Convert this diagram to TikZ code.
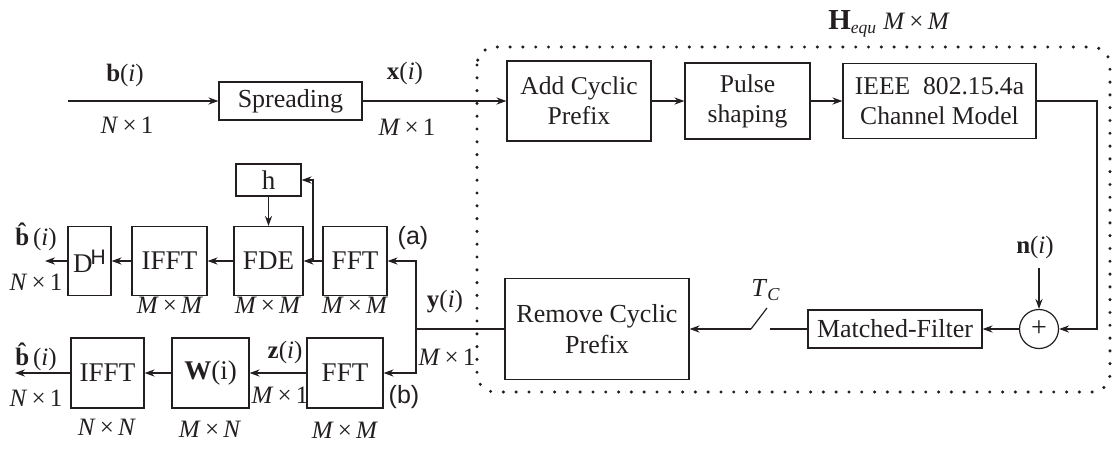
\documentclass[tikz,border=0pt]{standalone}
\usepackage{fontspec}
\setmainfont{Liberation Serif}
\setsansfont{Liberation Sans}
\usetikzlibrary{arrows.meta,calc,shapes.geometric}
\begin{document}
\begin{tikzpicture}[x=0.5pt,y=-0.5pt,
  box/.style={draw=ink, line width=0.6pt, inner sep=0pt, align=center, text=ink, font=\fontsize{12.8}{15}\selectfont},
  bigbox/.style={box, font=\fontsize{13.5}{15}\selectfont},
  ar/.style={draw=ink, -{Stealth[length=5pt,width=3.6pt]}, line width=0.6pt},
  ln/.style={draw=ink, line width=0.6pt},
  lbl/.style={font=\fontsize{12.5}{14}\selectfont, inner sep=0pt, text=ink},
  slbl/.style={font=\sffamily\fontsize{12.5}{14}\selectfont, inner sep=0pt, text=ink},
  dotbox/.style={draw=ink, line width=1.7pt, line cap=round, dash pattern=on 0pt off 6.4pt, rounded corners=9pt}]
\definecolor{ink}{RGB}{35,31,32}
\useasboundingbox (0,0) rectangle (1115,450);

% transmitter
\node[box, font=\fontsize{13}{15}\selectfont, minimum width=71.5pt, minimum height=19pt] (spread) at (290.5,101) {Spreading};
\node[box, minimum width=72pt, minimum height=40pt] (acp) at (579,101) {Add Cyclic\\Prefix};
\node[box, minimum width=62.5pt, minimum height=38pt] (pulse) at (747.5,101) {Pulse\\shaping};
\node[box, minimum width=96.5pt, minimum height=37.5pt] (ieee) at (939.5,101) {IEEE\ \ 802.15.4a\\Channel Model};
\node[draw=ink, line width=0.6pt, circle, minimum size=19.5pt, inner sep=0pt, text=ink, font=\fontsize{14}{14}\selectfont] (plus) at (1039,329) {+};
\node[box, font=\fontsize{13}{15}\selectfont, minimum width=87pt, minimum height=19pt] (mf) at (895,329) {Matched-Filter};
\node[box, font=\fontsize{13}{15.5}\selectfont, minimum width=92pt, minimum height=50.5pt] (rcp) at (597,329) {Remove Cyclic\\Prefix};

% receiver (a)
\node[bigbox, minimum width=32pt, minimum height=34.5pt] (ffta) at (355,261) {FFT};
\node[bigbox, minimum width=34.5pt, minimum height=34.5pt] (fde) at (268.5,261) {FDE};
\node[bigbox, minimum width=37.5pt, minimum height=34.5pt] (iffta) at (169.5,261) {IFFT};
\node[bigbox, minimum width=21.5pt, minimum height=34.5pt] (dh) at (89.5,261) {D\kern-1pt\raisebox{4pt}{\sffamily\fontsize{10.5}{10}\selectfont H}};
\node[bigbox, minimum width=32.5pt, minimum height=16pt] (h) at (268.5,180) {h};

% receiver (b)
\node[bigbox, minimum width=38pt, minimum height=35pt] (fftb) at (345,373) {FFT};
\node[bigbox, minimum width=38.5pt, minimum height=35pt] (w) at (210.5,373) {\textbf{W}(i)};
\node[bigbox, minimum width=36.5pt, minimum height=35pt] (ifftb) at (107.5,373) {IFFT};

% coordinates
\coordinate (in) at (68,101);
\coordinate (cr) at (1097,101);
\coordinate (nst) at (1039,268);
\coordinate (sw1) at (770,329);
\coordinate (sw2) at (751,329);
\coordinate (sw3) at (767,308);
\coordinate (br) at (416,329);
\coordinate (fb) at (313,261);
\coordinate (outa) at (45,261);
\coordinate (outb) at (15,373);

% connectors
\draw[ar] (in) -- (spread.west);
\draw[ar] (spread.east) -- (acp.west);
\draw[ar] (acp.east) -- (pulse.west);
\draw[ar] (pulse.east) -- (ieee.west);
\draw[ar] (ieee.east) -- (cr) |- (plus.east);
\draw[ar] (nst) -- (plus.north);
\draw[ar] (plus.west) -- (mf.east);
\draw[ln] (mf.west) -- (sw1);
\draw[ln] (sw2) -- (sw3);
\draw[ar] (sw2) -- (rcp.east);
\draw[ln] (rcp.west) -- (br);
\draw[ar] (br) |- (ffta.east);
\draw[ar] (br) |- (fftb.east);
\draw[ar] (ffta.west) -- (fde.east);
\draw[ar] (fb) |- (h.east);
\draw[ar] (h.south) -- (fde.north);
\draw[ar] (fde.west) -- (iffta.east);
\draw[ar] (iffta.west) -- (dh.east);
\draw[ar] (dh.west) -- (outa);
\draw[ar] (fftb.west) -- (w.east);
\draw[ar] (w.west) -- (ifftb.east);
\draw[ar] (ifftb.west) -- (outb);

% dotted equivalent-channel border
\draw[dotbox] (477,47) rectangle (1110,392);

% labels
\node[lbl] (lb) at (125,75) {\textbf{b}(\textit{i})};
\node[lbl] (lbn) at (127,125) {\textit{N}\,×\,1};
\node[lbl] (lx) at (405,73) {\textbf{x}(\textit{i})};
\node[lbl] (lxm) at (407,127) {\textit{M}\,×\,1};
\node[lbl] (lh) at (889,24) {{\fontsize{14.5}{16}\selectfont\textbf{H}}\textsubscript{\textit{equ}}\ \textit{M}\,×\,\textit{M}};
\node[lbl] (ln) at (1035,247) {\textbf{n}(\textit{i})};
\node[lbl, font=\fontsize{13}{14}\selectfont] (ltc) at (766,290) {\textit{T}\textsubscript{\textit{C}}};
\node[lbl] (ly) at (445,302) {\textbf{y}(\textit{i})};
\node[lbl] (lym) at (447,357) {\textit{M}\,×\,1};
\node[slbl] (la) at (413,238) {(a)};
\node[slbl] (lbb) at (404,397) {(b)};
\node[lbl] (lba) at (36,237) {\textbf{\^b}(\textit{i})};
\node[lbl] (lban) at (36,282) {\textit{N}\,×\,1};
\node[lbl] (lbb2) at (36,357) {\textbf{\^b}(\textit{i})};
\node[lbl] (lbbn) at (36,398) {\textit{N}\,×\,1};
\node[lbl] (m1) at (170,305) {\textit{M}\,×\,\textit{M}};
\node[lbl] (m2) at (268,305) {\textit{M}\,×\,\textit{M}};
\node[lbl] (m3) at (355,305) {\textit{M}\,×\,\textit{M}};
\node[lbl] (lz) at (285,352) {\textbf{z}(\textit{i})};
\node[lbl] (lzm) at (280,395) {\textit{M}\,×\,1};
\node[lbl] (n1) at (107,427) {\textit{N}\,×\,\textit{N}};
\node[lbl] (n2) at (210,429) {\textit{M}\,×\,\textit{N}};
\node[lbl] (n3) at (345,430) {\textit{M}\,×\,\textit{M}};
\end{tikzpicture}
\end{document}
